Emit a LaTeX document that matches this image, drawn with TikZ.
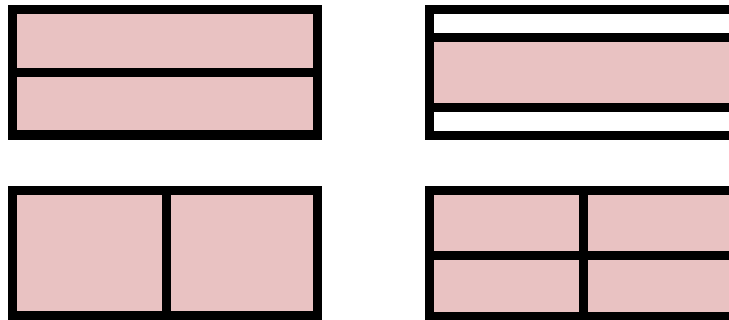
\documentclass[tikz,border=0pt]{standalone}
\usetikzlibrary{positioning}
\definecolor{rosy}{HTML}{E9C2C2}
\tikzset{frame/.style={fill=black},pane/.style={fill=rosy},blank/.style={fill=white}}
\begin{document}
\begin{tikzpicture}[x=1pt,y=1pt]
\useasboundingbox (0,0) rectangle (729,320);
\clip (0,0) rectangle (729,320);
% two panes stacked
\fill[frame] (8,180) rectangle (322,315);
\fill[pane] (17,252) rectangle (313,306);
\fill[pane] (17,190) rectangle (313,243);
% one pane between two blanks
\fill[frame] (425,180) rectangle (740,315);
\fill[blank] (434,287) rectangle (740,306);
\fill[pane] (434,217) rectangle (740,278);
\fill[blank] (434,189) rectangle (740,208);
% two panes side by side
\fill[frame] (8,-1) rectangle (322,134);
\fill[pane] (17,9) rectangle (162,125);
\fill[pane] (171,9) rectangle (313,125);
% two by two
\fill[frame] (425,-1) rectangle (740,134);
\foreach \xa/\xb in {434/579,588/740}{
  \foreach \ya/\yb in {69/125,8/60}{\fill[pane] (\xa,\ya) rectangle (\xb,\yb);}}
\end{tikzpicture}
\end{document}
